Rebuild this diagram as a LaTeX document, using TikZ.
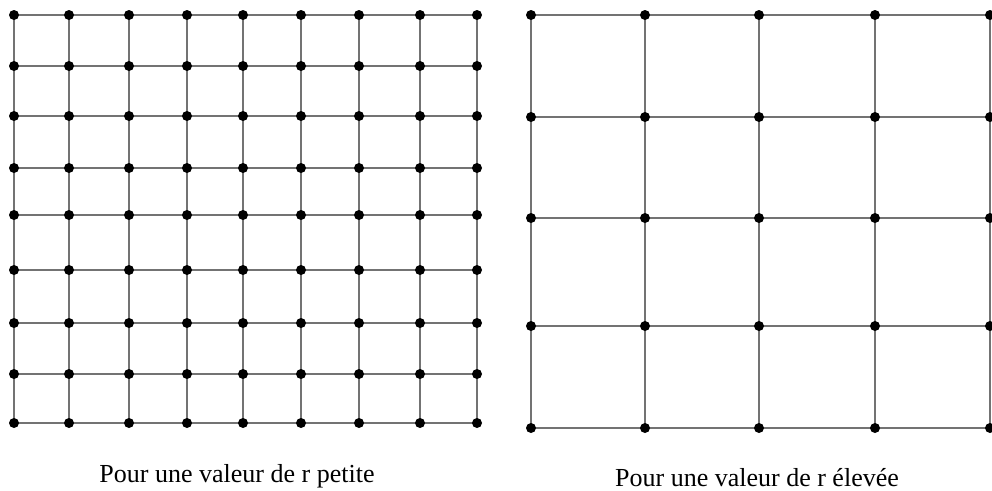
\documentclass[tikz,border=0pt]{standalone}
\usepackage{fontspec}
\setmainfont{Liberation Serif}

\begin{document}
\begin{tikzpicture}[x=1pt, y=-1pt,
  every node/.style={font=\fontsize{26}{30}\selectfont},
  dot/.style={circle, fill=black, inner sep=0pt, minimum size=10pt},
  gridline/.style={draw=black!55, line width=2.5pt},
  caption/.style={inner sep=0pt, anchor=base}]

\useasboundingbox (0,0) rectangle (992,490);

% petite valeur de r : grille fine
\foreach \x [count=\i] in {14,69,129,187,243,301,359,420,477}
  \foreach \y [count=\j] in {15,66,116,168,215,270,323,374,423}
    \coordinate (s-\i-\j) at (\x,\y);
\foreach \i in {1,...,9}
  \foreach \j/\k in {1/2,2/3,3/4,4/5,5/6,6/7,7/8,8/9} {
    \draw[gridline] (s-\i-\j) -- (s-\i-\k);
    \draw[gridline] (s-\j-\i) -- (s-\k-\i);
  }
\foreach \i in {1,...,9}
  \foreach \j in {1,...,9}
    \node[dot] at (s-\i-\j) {};

% valeur de r elevee : grille large
\foreach \x [count=\i] in {531,645,759,875,990}
  \foreach \y [count=\j] in {15,117,218,326,428}
    \coordinate (b-\i-\j) at (\x,\y);
\foreach \i in {1,...,5}
  \foreach \j/\k in {1/2,2/3,3/4,4/5} {
    \draw[gridline] (b-\i-\j) -- (b-\i-\k);
    \draw[gridline] (b-\j-\i) -- (b-\k-\i);
  }
\foreach \i in {1,...,5}
  \foreach \j in {1,...,5}
    \node[dot] at (b-\i-\j) {};

\node[caption] (petite) at (237,482) {Pour une valeur de r petite};
\node[caption] (elevee) at (757,486) {Pour une valeur de r élevée};

\end{tikzpicture}
\end{document}
